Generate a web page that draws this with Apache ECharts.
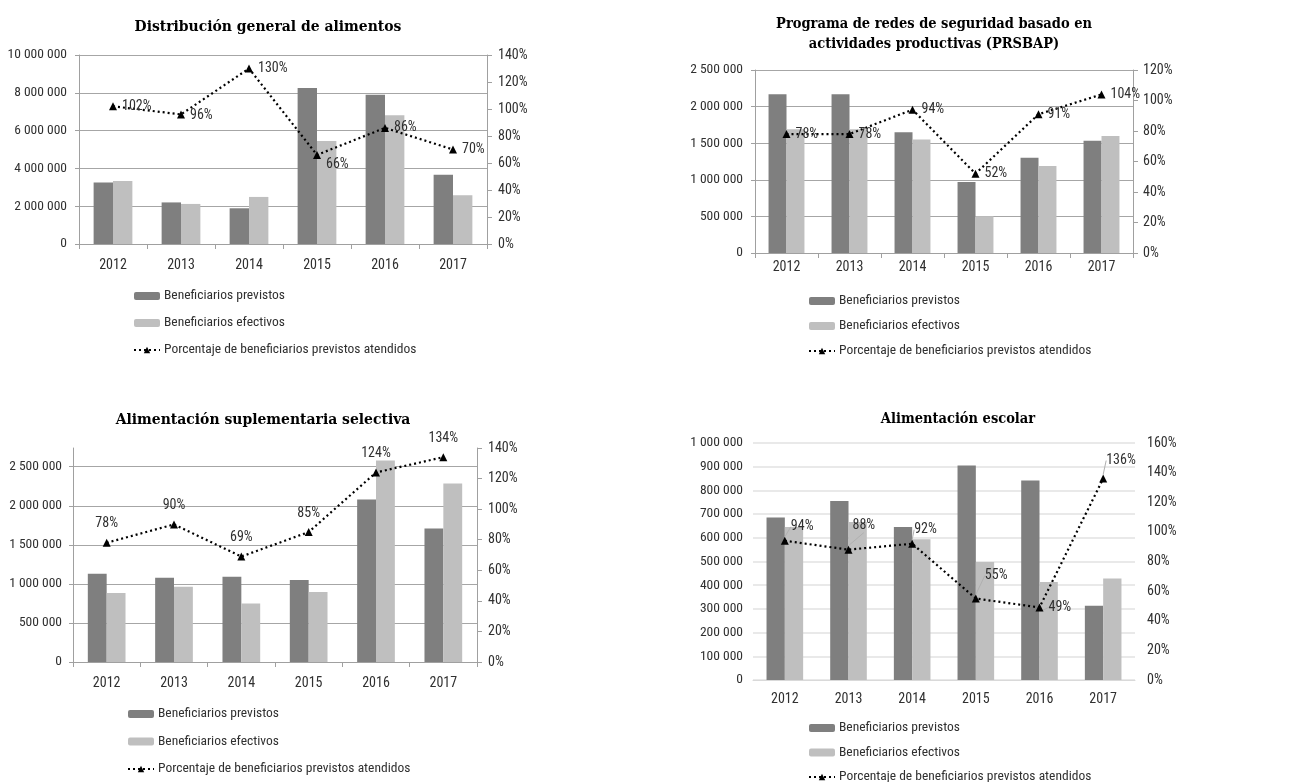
<!DOCTYPE html>
<html>
<head>
<meta charset="utf-8">
<title>Beneficiarios previstos y efectivos 2012-2017</title>
<script src="https://cdn.jsdelivr.net/npm/echarts@6/dist/echarts.min.js"></script>
<style>
  html, body { margin: 0; padding: 0; background: #fff; }
  #chart { width: 1290px; height: 782px; }
</style>
</head>
<body>
<div id="chart"></div>
<script>
// Years shown on every category axis
const years = ['2012', '2013', '2014', '2015', '2016', '2017'];

// Series names (legend entries)
const namePrevistos = 'Beneficiarios previstos';
const nameEfectivos = 'Beneficiarios efectivos';
const namePct = 'Porcentaje de beneficiarios previstos atendidos';

// Distribución general de alimentos
const dgaTitle = 'Distribución general de alimentos';
const dgaPrevistos = [3250000, 2200000, 1890000, 8250000, 7900000, 3670000];
const dgaEfectivos = [3330000, 2120000, 2490000, 5450000, 6810000, 2580000];
const dgaPct = [102, 96, 130, 66, 86, 70];

// Programa de redes de seguridad basado en actividades productivas
const prsTitle = 'Programa de redes de seguridad basado en\nactividades productivas (PRSBAP)';
const prsPrevistos = [2170000, 2170000, 1650000, 970000, 1300000, 1535000];
const prsEfectivos = [1690000, 1690000, 1550000, 503000, 1187000, 1600000];
const prsPct = [78, 78, 94, 52, 91, 104];

// Alimentación suplementaria selectiva
const assTitle = 'Alimentación suplementaria selectiva';
const assPrevistos = [1130000, 1080000, 1090000, 1050000, 2080000, 1710000];
const assEfectivos = [882000, 963000, 750000, 895000, 2580000, 2285000];
const assPct = [78, 90, 69, 85, 124, 134];

// Alimentación escolar
const aesTitle = 'Alimentación escolar';
const aesPrevistos = [686000, 755000, 646000, 905000, 842000, 313000];
const aesEfectivos = [646000, 667000, 594000, 498000, 414000, 428000];
const aesPct = [94, 88, 92, 55, 49, 136];

// ---------------------------------------------------------------------------
const NARROW = "'Liberation Sans Narrow', 'Roboto Condensed', 'Liberation Sans', sans-serif";
const SERIF = "'DejaVu Serif Condensed', 'DejaVu Serif', serif";
const DARK = '#7f7f7f';
const LIGHT = '#bfbfbf';
const TEXT = '#303030';

const fmtThousands = v => String(Math.round(v)).replace(/\B(?=(\d{3})+(?!\d))/g, ' ');
const fmtPct = v => Math.round(v) + '%';

const option = {
  animation: false,
  backgroundColor: '#fff',
  title: [],
  legend: [],
  grid: [],
  xAxis: [],
  yAxis: [],
  series: []
};

function addPanel(p) {
  const gi = option.grid.length;
  option.grid.push({ left: p.grid[0], top: p.grid[1], width: p.grid[2], height: p.grid[3], containLabel: false });

  option.title.push({
    text: p.title,
    left: p.titlePos[0],
    top: p.titlePos[1],
    textAlign: 'center',
    padding: 0,
    textStyle: { fontFamily: SERIF, fontSize: p.titleSize, fontWeight: 'bold', color: '#000', lineHeight: 20 }
  });

  option.legend.push({
    orient: 'vertical',
    left: p.legendPos[0],
    top: p.legendPos[1],
    height: 120,
    itemWidth: 26,
    itemHeight: 8,
    itemGap: p.legendGap,
    padding: 0,
    selectedMode: false,
    data: [namePrevistos, nameEfectivos, namePct],
    textStyle: { fontFamily: NARROW, fontSize: 13.5, color: TEXT, lineHeight: 14, padding: [0, 0, 0, -1] }
  });

  const axisColor = p.light ? '#d9d9d9' : '#a0a0a0';
  option.xAxis.push({
    type: 'category',
    gridIndex: gi,
    data: years,
    boundaryGap: true,
    axisLine: { show: true, lineStyle: { color: axisColor, width: 1 } },
    axisTick: { show: !p.light, length: 5, lineStyle: { color: axisColor } },
    axisLabel: { margin: p.xMargin, fontFamily: NARROW, fontSize: 14, color: TEXT },
    splitLine: { show: false }
  });

  const yi = option.yAxis.length;
  option.yAxis.push({
    type: 'value',
    gridIndex: gi,
    position: 'left',
    min: 0,
    max: p.leftMax,
    interval: p.leftInterval,
    axisLine: { show: !p.light, lineStyle: { color: axisColor } },
    axisTick: { show: !p.light, length: 4, lineStyle: { color: axisColor } },
    axisLabel: { margin: p.leftMargin, fontFamily: NARROW, fontSize: 13.5, color: TEXT, formatter: fmtThousands, showMaxLabel: p.showMax !== false },
    splitLine: { show: true, showMaxLine: p.showMax !== false, lineStyle: { color: p.light ? '#e2e2e2' : '#a6a6a6', width: p.light ? 1.5 : 1 } }
  });
  option.yAxis.push({
    type: 'value',
    gridIndex: gi,
    position: 'right',
    min: 0,
    max: p.rightMax,
    interval: 20,
    axisLine: { show: !p.light, lineStyle: { color: axisColor } },
    axisTick: { show: !p.light, length: 5, lineStyle: { color: axisColor } },
    axisLabel: { margin: p.rightMargin, fontFamily: NARROW, fontSize: 14, color: TEXT, formatter: v => v + '%' },
    splitLine: { show: false }
  });

  option.series.push({
    name: namePrevistos,
    type: 'bar',
    xAxisIndex: gi,
    yAxisIndex: yi,
    data: p.previstos,
    itemStyle: { color: DARK },
    barGap: '0%',
    barCategoryGap: p.catGap
  });
  option.series.push({
    name: nameEfectivos,
    type: 'bar',
    xAxisIndex: gi,
    yAxisIndex: yi,
    data: p.efectivos,
    itemStyle: { color: LIGHT },
    barGap: '0%',
    barCategoryGap: p.catGap
  });

  const lineSeries = {
    name: namePct,
    type: 'line',
    xAxisIndex: gi,
    yAxisIndex: yi + 1,
    data: p.pct,
    z: 5,
    symbol: 'triangle',
    symbolSize: 8,
    itemStyle: { color: '#000' },
    lineStyle: { color: '#000', width: 2.2, type: [2, 3] },
    label: {
      show: true,
      position: p.labelPos,
      distance: p.labelDist,
      formatter: params => fmtPct(params.value),
      fontFamily: NARROW,
      fontSize: 14,
      color: TEXT
    }
  };
  if (p.labelShift) {
    lineSeries.labelLayout = params => {
      const s = p.labelShift[params.dataIndex] || [0, 0];
      return { dx: s[0], dy: s[1] };
    };
  }
  if (p.leader) {
    lineSeries.labelLine = { show: true, smooth: false, minTurnAngle: 0, length2: 0, lineStyle: { color: '#b0b0b0', width: 1, type: 'solid' } };
  }
  option.series.push(lineSeries);
}

addPanel({
  title: dgaTitle, titlePos: [268, 17], titleSize: 15.5,
  grid: [79, 55, 408, 189],
  legendPos: [133, 289], legendGap: 13,
  previstos: dgaPrevistos, efectivos: dgaEfectivos, pct: dgaPct,
  leftMax: 10000000, leftInterval: 2000000, rightMax: 140,
  leftMargin: 12, rightMargin: 11, xMargin: 14,
  catGap: '43%',
  labelPos: 'right', labelDist: 5,
  labelShift: [[0, 0], [0, 1], [0, 0], [0, 10], [0, 0], [0, 0]]
});

addPanel({
  title: prsTitle, titlePos: [934, 14], titleSize: 14.5,
  grid: [755, 70, 378, 183],
  legendPos: [808, 294], legendGap: 11,
  previstos: prsPrevistos, efectivos: prsEfectivos, pct: prsPct,
  leftMax: 2500000, leftInterval: 500000, rightMax: 120,
  leftMargin: 12, rightMargin: 10, xMargin: 7,
  catGap: '43%',
  labelPos: 'right', labelDist: 5
});

addPanel({
  title: assTitle, titlePos: [263, 410], titleSize: 15.5,
  grid: [73, 448, 404, 214],
  legendPos: [127, 707], legendGap: 13.5,
  previstos: assPrevistos, efectivos: assEfectivos, pct: assPct,
  leftMax: 2740000, leftInterval: 500000, rightMax: 140, showMax: false,
  leftMargin: 11, rightMargin: 11, xMargin: 14,
  catGap: '44%',
  labelPos: 'top', labelDist: 8
});

addPanel({
  title: aesTitle, titlePos: [958, 409], titleSize: 14.5,
  grid: [753, 443, 382, 237],
  legendPos: [808, 721], legendGap: 10.5,
  previstos: aesPrevistos, efectivos: aesEfectivos, pct: aesPct,
  leftMax: 1000000, leftInterval: 100000, rightMax: 160,
  leftMargin: 10, rightMargin: 12, xMargin: 12,
  catGap: '42.5%',
  light: true,
  labelPos: 'right', labelDist: 5,
  labelShift: [[-3, -14], [-5, -24], [-7, -14], [0, -23], [0, 0], [-6, -18]],
  leader: true
});

const chart = echarts.init(document.getElementById('chart'), null, { renderer: 'canvas' });
chart.setOption(option);
</script>
</body>
</html>
